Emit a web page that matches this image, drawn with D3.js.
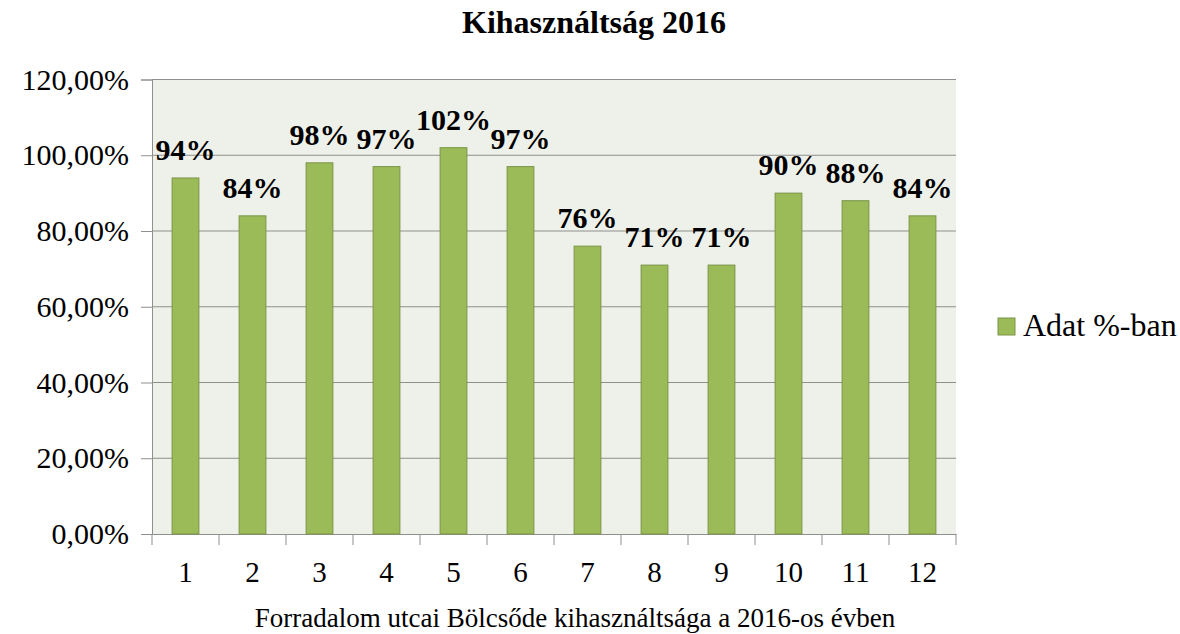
<!DOCTYPE html>
<html>
<head>
<meta charset="utf-8">
<script src="https://cdn.jsdelivr.net/npm/d3@7"></script>
<style>
  body { margin: 0; background: #fff; }
  svg text { font-family: "Liberation Serif", "Times New Roman", serif; }
</style>
</head>
<body>
<div id="canvas"></div>
<script>
const months = ["1", "2", "3", "4", "5", "6", "7", "8", "9", "10", "11", "12"];
const values = [94, 84, 98, 97, 102, 97, 76, 71, 71, 90, 88, 84];
const yTicks = [0, 20, 40, 60, 80, 100, 120];
const seriesName = "Adat %-ban";
const title = "Kihasználtság 2016";
const caption = "Forradalom utcai Bölcsőde kihasználtsága a 2016-os évben";

const W = 1180, H = 634;
const serif = '"Liberation Serif", "Times New Roman", serif';
const margin = { Top: 79.5, Right: 224, Bottom: 100, Left: 152 };
const width = W - margin.Left - margin.Right;
const height = H - margin.Top - margin.Bottom;

const svg = d3.select("#canvas").append("svg")
    .attr("width", W)
    .attr("height", H)
    .style("font-family", serif);

const g = svg.append("g")
    .attr("transform", `translate(${margin.Left}, ${margin.Top})`);

const x = d3.scaleBand()
    .domain(months)
    .range([0, width])
    .paddingInner(0.6)
    .paddingOuter(0.3);

const y = d3.scaleLinear()
    .domain([0, 120])
    .range([height, 0]);

// plot background
g.append("rect")
    .attr("width", width)
    .attr("height", height)
    .attr("fill", "#eef1e9");

// gridlines
g.append("g")
    .selectAll("line")
    .data(yTicks.filter(d => d > 0))
    .enter().append("line")
    .attr("x1", 0)
    .attr("x2", width)
    .attr("y1", d => y(d))
    .attr("y2", d => y(d))
    .attr("stroke", "#8f8f8f")
    .attr("stroke-width", 1);

// y axis
const yAxis = g.append("g")
    .call(d3.axisLeft(y)
        .tickValues(yTicks)
        .tickSize(11)
        .tickPadding(12)
        .tickFormat(d => d.toFixed(2).replace(".", ",") + "%"));
yAxis.attr("font-family", null);
yAxis.select(".domain").attr("stroke", "#8f8f8f");
yAxis.selectAll(".tick line").attr("stroke", "#8f8f8f");
yAxis.selectAll("text")
    .attr("font-size", 30)
    .style("font-family", serif)
    .attr("fill", "#000");

// x axis with ticks on band boundaries
const xAxis = g.append("g")
    .attr("transform", `translate(0, ${height})`)
    .call(d3.axisBottom(x).tickSize(0).tickPadding(27));
xAxis.attr("font-family", null);
xAxis.select(".domain").attr("stroke", "#8f8f8f");
xAxis.selectAll("text")
    .attr("font-size", 29)
    .style("font-family", serif)
    .attr("fill", "#000");
const step = x.step();
xAxis.selectAll(".sep")
    .data(d3.range(months.length + 1))
    .enter().append("line")
    .attr("x1", i => i * step)
    .attr("x2", i => i * step)
    .attr("y1", 0)
    .attr("y2", 11)
    .attr("stroke", "#8f8f8f");

// bars
g.selectAll(".bar")
    .data(values)
    .enter().append("rect")
    .attr("class", "bar")
    .attr("x", (d, i) => x(months[i]))
    .attr("y", d => y(d))
    .attr("width", x.bandwidth())
    .attr("height", d => height - y(d))
    .attr("fill", "#9bbb59")
    .attr("stroke", "#7a9446")
    .attr("stroke-width", 1);

// value labels
g.selectAll(".lbl")
    .data(values)
    .enter().append("text")
    .attr("class", "lbl")
    .attr("x", (d, i) => x(months[i]) + x.bandwidth() / 2)
    .attr("y", d => y(d) - 18)
    .attr("text-anchor", "middle")
    .attr("font-size", 30)
    .attr("font-weight", "bold")
    .style("font-family", serif)
    .text(d => d + "%");

// title
svg.append("text")
    .attr("x", 594)
    .attr("y", 33)
    .attr("text-anchor", "middle")
    .attr("font-size", 32)
    .attr("font-weight", "bold")
    .style("font-family", serif)
    .text(title);

// legend
const lg = svg.append("g").attr("transform", "translate(998, 318)");
lg.append("rect")
    .attr("width", 17)
    .attr("height", 17)
    .attr("fill", "#9bbb59")
    .attr("stroke", "#7a9446");
lg.append("text")
    .attr("x", 25)
    .attr("y", 18)
    .attr("font-size", 32)
    .style("font-family", serif)
    .text(seriesName);

// caption
svg.append("text")
    .attr("x", 575)
    .attr("y", 627)
    .attr("text-anchor", "middle")
    .attr("font-size", 27)
    .style("font-family", serif)
    .text(caption);
</script>
</body>
</html>
